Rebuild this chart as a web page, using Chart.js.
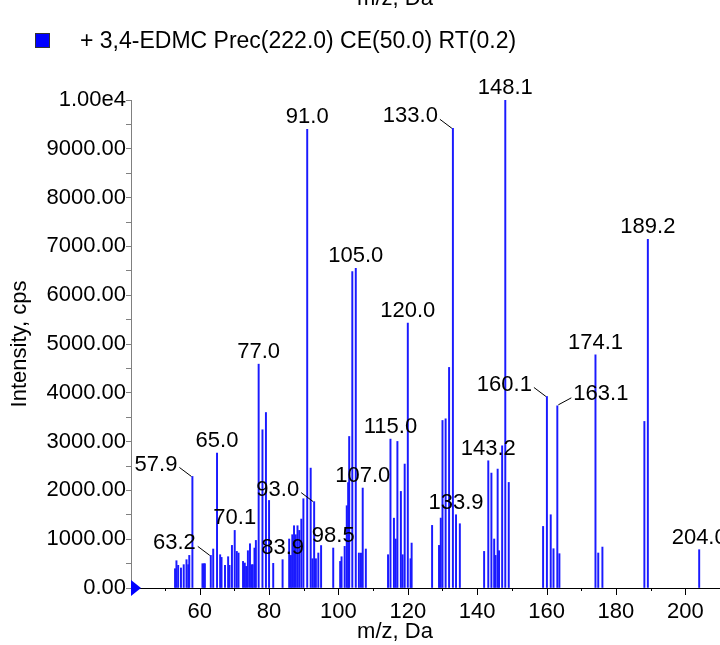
<!DOCTYPE html>
<html><head><meta charset="utf-8">
<script src="https://cdn.jsdelivr.net/npm/chart.js@4.4.0/dist/chart.umd.min.js"></script>
<style>html,body{margin:0;padding:0;background:#fff}#wrap{width:720px;height:645px;position:relative}</style>
</head><body><div id="wrap"><canvas id="c"></canvas></div>
<script>
// ---- data ----
const seriesLabel = '+ 3,4-EDMC Prec(222.0) CE(50.0) RT(0.2)';
const mzValues = [52.9,53.3,53.8,54.6,55.4,56.2,56.7,57.0,57.9,60.8,61.2,61.5,63.2,63.9,65.0,65.9,66.3,67.3,68.2,68.6,69.3,70.1,70.7,71.2,72.5,73.0,73.4,73.9,74.5,75.0,75.3,75.8,76.2,77.0,78.1,79.1,80.0,81.2,83.9,85.8,86.3,86.7,87.2,87.7,88.2,88.7,89.3,89.9,91.0,92.0,92.5,93.0,93.5,94.2,95.0,98.5,100.5,100.9,101.8,102.4,102.8,103.1,104.0,105.0,105.9,106.5,107.0,107.9,114.3,115.0,116.0,116.5,117.0,118.0,118.5,119.1,120.0,120.8,121.1,127.0,129.0,129.5,130.0,130.9,131.9,133.0,133.9,135.0,142.0,143.2,144.1,144.9,145.3,145.9,146.3,147.2,148.1,149.1,159.0,160.1,161.2,162.0,163.1,163.7,174.1,174.9,176.1,188.2,189.2,204.0];
const intensities = [395,559,464,410,478,580,478,668,2286,498,498,498,668,799,2765,682,627,464,641,464,873,1180,750,717,545,512,443,764,907,478,478,819,975,4587,3242,3596,1794,505,580,1004,668,1092,1276,1092,1276,1180,1413,1829,9400,2457,600,1770,600,717,870,819,545,640,853,1686,2160,3105,6484,6553,717,717,2048,799,682,3051,1431,1004,3003,1979,682,2540,5427,600,921,1283,873,1433,3433,3467,4520,9420,1501,1317,750,2607,2355,1004,668,2437,764,2914,10000,2163,1262,3925,1501,805,3733,703,4778,717,839,3413,7147,785];
const peakLabels = ['57.9','63.2','65.0','70.1','77.0','83.9','91.0','93.0','98.5','105.0','107.0','115.0','120.0','133.0','133.9','143.2','148.1','160.1','163.1','174.1','189.2','204.0'];
const labelSides = {'57.9':'left','63.2':'left','93.0':'left','133.0':'left','160.1':'left','163.1':'right'};
const xTickLabels = ['60','80','100','120','140','160','180','200'];
const yTickLabels = ['0.00','1000.00','2000.00','3000.00','4000.00','5000.00','6000.00','7000.00','8000.00','9000.00','1.00e4'];
const xTitle = 'm/z, Da';
const yTitle = 'Intensity, cps';

const FONT = '"Liberation Sans", Arial, sans-serif';
const points = mzValues.map((m, i) => ({x: m, y: intensities[i]}));

const deco = {
  id: 'deco',
  afterDatasetsDraw(chart) {
    const {ctx, chartArea: a, scales: {x, y}} = chart;
    ctx.save();
    const y0 = y.getPixelForValue(0);
    // x axis ticks (minor / major)
    ctx.strokeStyle = '#000'; ctx.lineWidth = 1;
    for (let v = 50; v <= 210; v += 10) {
      const px = Math.round(x.getPixelForValue(v)) + 0.5;
      const len = (v % 20 === 0) ? 7 : 3;
      ctx.beginPath(); ctx.moveTo(px, y0); ctx.lineTo(px, y0 + len); ctx.stroke();
    }
    // origin marker triangle
    ctx.fillStyle = '#0000ff';
    ctx.beginPath();
    ctx.moveTo(a.left, y0 - 8); ctx.lineTo(a.left + 10, y0); ctx.lineTo(a.left, y0 + 8); ctx.closePath(); ctx.fill();
    // peak labels
    ctx.font = '22px ' + FONT; ctx.fillStyle = '#000'; ctx.textBaseline = 'middle';
    ctx.strokeStyle = '#000'; ctx.lineWidth = 1;
    peakLabels.forEach(lbl => {
      const idx = mzValues.indexOf(parseFloat(lbl));
      if (idx < 0) return;
      const px = x.getPixelForValue(mzValues[idx]);
      const top = y.getPixelForValue(intensities[idx]);
      const side = labelSides[lbl];
      const cy = top - 12;
      if (side === 'left') {
        ctx.textAlign = 'right';
        ctx.fillText(lbl, px - 15, cy);
        ctx.beginPath(); ctx.moveTo(px - 13, cy + 3); ctx.lineTo(px - 1, top); ctx.stroke();
      } else if (side === 'right') {
        ctx.textAlign = 'left';
        ctx.fillText(lbl, px + 16, cy);
        ctx.beginPath(); ctx.moveTo(px + 14, cy + 4); ctx.lineTo(px + 1, top - 1); ctx.stroke();
      } else {
        ctx.textAlign = 'center';
        ctx.fillText(lbl, px, cy);
      }
    });
    // x axis title (bottom) and clipped top title
    ctx.textAlign = 'center'; ctx.textBaseline = 'alphabetic';
    ctx.fillText(xTitle, a.left + 264, 638);
    ctx.fillText(xTitle, a.left + 264, 5);
    // legend
    ctx.fillStyle = '#0000ff'; ctx.fillRect(35, 33, 15, 15);
    ctx.strokeStyle = '#333'; ctx.strokeRect(35.5, 33.5, 14, 14);
    ctx.fillStyle = '#000'; ctx.textAlign = 'left'; ctx.textBaseline = 'middle';
    ctx.font = '23px ' + FONT;
    ctx.fillText(seriesLabel, 80, 42);
    ctx.restore();
  }
};

new Chart(document.getElementById('c'), {
  type: 'bar',
  data: {
    datasets: [{
      label: seriesLabel,
      data: points,
      backgroundColor: '#1a1aff',
      borderWidth: 0,
      barThickness: 1.3,
      grouped: false
    }]
  },
  options: {
    responsive: true,
    maintainAspectRatio: false,
    animation: false,
    layout: {padding: {top: 100, left: 0, right: 0, bottom: 0}},
    plugins: {legend: {display: false}, tooltip: {enabled: false}},
    scales: {
      x: {
        type: 'linear', min: 40.2, max: 210, offset: false,
        afterFit: s => { s.height = 57; s.paddingLeft = 0; s.paddingRight = 0; },
        grid: {display: false, offset: false},
        border: {display: true, color: '#000', width: 1},
        ticks: {
          stepSize: 10, includeBounds: false, autoSkip: false, maxRotation: 0,
          padding: 3, color: '#000', font: {size: 22, family: FONT},
          callback: v => xTickLabels.includes(String(v)) ? String(v) : ''
        }
      },
      y: {
        min: 0, max: 10000,
        afterFit: s => { s.width = 131; s.paddingTop = 0; s.paddingBottom = 0; },
        grid: {drawOnChartArea: false, drawTicks: true, tickLength: 5, color: '#808080'},
        border: {display: true, color: '#808080', width: 1},
        ticks: {
          stepSize: 500, includeBounds: false, autoSkip: false, padding: 0,
          color: '#000', font: {size: 22, family: FONT},
          callback: v => (v % 1000 === 0) ? yTickLabels[v / 1000] : ''
        },
        title: {display: true, text: yTitle, color: '#000', font: {size: 22, family: FONT}, padding: {top: 7, bottom: 0}}
      }
    }
  },
  plugins: [deco]
});
</script></body></html>
